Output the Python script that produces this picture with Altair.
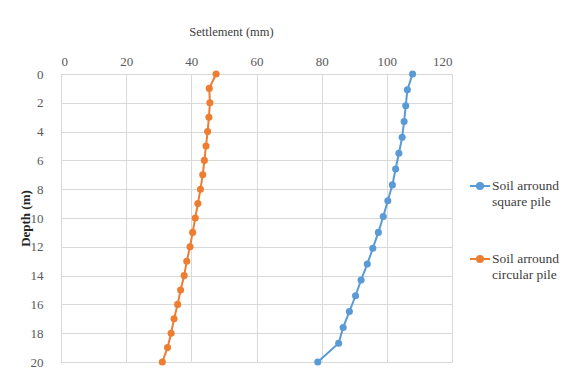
import altair as alt
import pandas as pd

# Soil around square pile
square_depth = [0, 1.1, 2.2, 3.3, 4.4, 5.5, 6.6, 7.7, 8.8, 9.9, 11.0, 12.1, 13.2,
                14.3, 15.4, 16.5, 17.6, 18.7, 20]
square_settle = [107.9, 106.3, 105.8, 105.3, 104.7, 103.7, 102.7, 101.7, 100.3, 98.9,
                 97.4, 95.7, 94.0, 92.1, 90.4, 88.5, 86.6, 85.2, 78.8]

# Soil around circular pile
circ_depth = list(range(0, 21))
circ_settle = [47.6, 45.5, 45.7, 45.4, 45.0, 44.5, 44.0, 43.5, 42.8, 42.0, 41.2,
               40.4, 39.6, 38.6, 37.8, 36.7, 35.8, 34.7, 33.8, 32.7, 31.1]

series_names = ["Soil arround\nsquare pile", "Soil arround\ncircular pile"]
series_colors = ["#5B9BD5", "#ED7D31"]
x_ticks = [0, 20, 40, 60, 80, 100, 120]
y_ticks = [0, 2, 4, 6, 8, 10, 12, 14, 16, 18, 20]

rows = []
for d, s in zip(square_depth, square_settle):
    rows.append({"series": series_names[0], "depth": d, "settle": s, "ord": d})
for d, s in zip(circ_depth, circ_settle):
    rows.append({"series": series_names[1], "depth": d, "settle": s, "ord": d})
df = pd.DataFrame(rows)

FONT = "Liberation Serif"

color = alt.Color(
    "series:N",
    scale=alt.Scale(domain=series_names, range=series_colors),
    legend=alt.Legend(
        title=None,
        orient="none",
        legendX=408,
        legendY=101,
        labelExpr="split(datum.label, '\\n')",
        labelFont=FONT,
        labelFontSize=13.5,
        labelColor="#404040",
        labelLimit=200,
        rowPadding=40,
        symbolType="M-1,0H1M0.3,0A0.3,0.3 0 1 1 -0.3,0A0.3,0.3 0 1 1 0.3,0Z",
        symbolSize=400,
        symbolStrokeWidth=2,
        symbolOffset=0,
        labelOffset=1,
    ),
)

x = alt.X(
    "settle:Q",
    scale=alt.Scale(domain=[0, 120], nice=False),
    axis=alt.Axis(
        orient="top", values=x_ticks, title="Settlement (mm)",
        titleFont=FONT, titleFontSize=12.5, titleFontWeight="normal", titleColor="#404040",
        titleX=170, titleY=-43, titleAlign="center", titleBaseline="middle",
        labelFont=FONT, labelFontSize=13, labelColor="#595959", labelPadding=6,
        ticks=False, domain=False, gridColor="#d9d9d9",
    ),
)
y = alt.Y(
    "depth:Q",
    scale=alt.Scale(domain=[0, 20], reverse=True, nice=False),
    axis=alt.Axis(
        values=y_ticks, title="Depth (m)",
        titleFont=FONT, titleFontSize=13, titleFontWeight="bold", titleColor="#262626",
        titleX=-36, titleY=144, titleAlign="center", titleBaseline="middle", titleAngle=270,
        labelFont=FONT, labelFontSize=13, labelColor="#595959", labelPadding=18,
        ticks=False, domain=False, gridColor="#d9d9d9",
    ),
)

lines = alt.Chart(df).mark_line(strokeWidth=2).encode(
    x=x, y=y, color=color, order="ord:Q", detail="series:N"
)
points = alt.Chart(df).mark_circle(size=50, opacity=1).encode(
    x=x, y=y, color=alt.Color("series:N", scale=alt.Scale(domain=series_names, range=series_colors), legend=None)
)

chart = alt.layer(lines, points).properties(
    width=391,
    height=288,
    autosize=alt.AutoSizeParams(type="none"),
    padding={"left": 53, "top": 66, "right": 111, "bottom": 10},
).configure_view(stroke="#d9d9d9").configure(background="white")

chart.save("out.html", embed_options={"renderer": "svg", "actions": False})
